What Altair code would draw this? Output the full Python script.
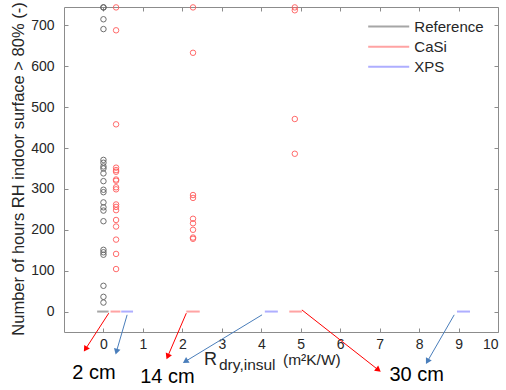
import math
import altair as alt
import pandas as pd

# ---------------- data ----------------
series_names = ["Reference", "CaSi", "XPS"]

# Reference (no insulation) circles, all at R = 0
ref_x = 0.0
ref_hours = [744, 744, 715, 691, 371, 364, 355, 350, 338, 319, 298, 292,
             267, 255, 247, 221, 151, 145, 139, 63, 36, 22]

# CaSi circles: three insulation thicknesses
casi_x = [0.32, 2.27, 4.85]
casi_hours_1 = [744, 688, 458, 352, 346, 342, 323, 320, 304, 299, 262,
                256, 248, 224, 208, 176, 141, 104]
casi_hours_2 = [744, 633, 285, 278, 227, 216, 200, 181, 178]
casi_hours_3 = [744, 737, 471, 386]

# short horizontal segments at 0 hours
zero_series = ["Reference", "CaSi", "XPS", "CaSi", "XPS", "CaSi", "XPS"]
zero_start = [-0.16, 0.18, 0.45, 2.10, 4.09, 4.71, 8.96]
zero_end = [0.13, 0.43, 0.75, 2.44, 4.42, 5.03, 9.29]
zero_hours = [0, 0, 0, 0, 0, 0, 0]

# annotation texts and arrows (in data units)
note_text = ["2 cm", "14 cm", "30 cm"]
note_x = [-0.24, 1.62, 7.94]
note_y = [-165, -175, -171]

arrow_colour = ["red", "blue", "red", "blue", "red", "blue"]
arrow_x0 = [0.134, 0.60, 2.10, 4.02, 5.03, 8.89]
arrow_y0 = [-4, -8, -4, -8, 4, -8]
arrow_x1 = [-0.456, 0.329, 1.628, 2.076, 6.97, 8.21]
arrow_y1 = [-92, -98, -110, -122, -143, -122]

# legend placement (data units, inside the plot, top right)
legend_x0 = 6.71
legend_x1 = 7.75
legend_text_x = 7.88
legend_rows = [697, 648, 599]

x_ticks = list(range(0, 11))
y_ticks = list(range(0, 701, 100))

# ---------------- tables ----------------
pts = pd.DataFrame(
    [{"series": "Reference", "R": ref_x, "hours": h} for h in ref_hours]
    + [{"series": "CaSi", "R": casi_x[0], "hours": h} for h in casi_hours_1]
    + [{"series": "CaSi", "R": casi_x[1], "hours": h} for h in casi_hours_2]
    + [{"series": "CaSi", "R": casi_x[2], "hours": h} for h in casi_hours_3]
)
zeros = pd.DataFrame({"series": zero_series, "R": zero_start,
                      "R2": zero_end, "hours": zero_hours})
notes = pd.DataFrame({"text": note_text, "R": note_x, "hours": note_y})
legend_df = pd.DataFrame({"series": series_names, "R": [legend_x0] * 3,
                          "R2": [legend_x1] * 3, "Rt": [legend_text_x] * 3,
                          "hours": legend_rows})

W, H = 434, 325
XD = [-1, 10]
YD = [-50, 745]
pxx = W / (XD[1] - XD[0])
pxy = H / (YD[1] - YD[0])
angles = []
for a, b, c, d in zip(arrow_x0, arrow_y0, arrow_x1, arrow_y1):
    dx = (c - a) * pxx
    dy = -(d - b) * pxy
    angles.append(math.degrees(math.atan2(dx, -dy)) % 360)
arrows = pd.DataFrame({"col": arrow_colour, "R": arrow_x0, "hours": arrow_y0,
                       "R2": arrow_x1, "hours2": arrow_y1, "ang": angles})

xs = alt.Scale(domain=XD, nice=False, zero=False)
ys = alt.Scale(domain=YD, nice=False, zero=False)

axis_common = dict(domain=False, grid=False, tickSize=4, offset=-4,
                   tickColor="#8c8c8c", labelColor="#262626",
                   labelFontSize=14, title=None)

x_axis = alt.Axis(values=x_ticks, labelPadding=5, **axis_common)
y_axis = alt.Axis(values=y_ticks, labelPadding=10, **axis_common)
x_top = alt.Axis(values=x_ticks, orient="top", labels=False, **axis_common)
y_right = alt.Axis(values=y_ticks, orient="right", labels=False, **axis_common)

seg_colours = ["#a6a6a6", "#ffa3a3", "#aeaeff"]
pt_colours = ["#5f5f5f", "#ff5c5c", "#8080ff"]
seg_scale = alt.Scale(domain=series_names, range=seg_colours)

segments = alt.Chart(zeros).mark_rule(strokeWidth=2).encode(
    x=alt.X("R:Q", scale=xs, axis=x_axis),
    x2="R2:Q",
    y=alt.Y("hours:Q", scale=ys, axis=y_axis),
    color=alt.Color("series:N", scale=seg_scale, legend=None),
)

frame_axes = alt.Chart(zeros).mark_point(opacity=0).encode(
    x=alt.X("R:Q", scale=xs, axis=x_top),
    y=alt.Y("hours:Q", scale=ys, axis=y_right),
)

circles = alt.Chart(pts).mark_point(shape="circle", filled=False, size=30,
                                    strokeWidth=1, opacity=0.9).encode(
    x=alt.X("R:Q", scale=xs, axis=None),
    y=alt.Y("hours:Q", scale=ys, axis=None),
    stroke=alt.Stroke("series:N", scale=alt.Scale(domain=series_names, range=pt_colours),
                      legend=None),
)

arrow_scale = alt.Scale(domain=["red", "blue"], range=["#ff0000", "#4a7ebb"])
arrow_lines = alt.Chart(arrows).mark_rule(strokeWidth=1).encode(
    x=alt.X("R:Q", scale=xs, axis=None), y=alt.Y("hours:Q", scale=ys, axis=None),
    x2="R2:Q", y2="hours2:Q",
    stroke=alt.Stroke("col:N", scale=arrow_scale, legend=None),
)
arrow_heads = alt.Chart(arrows).mark_point(shape="triangle-up", filled=True,
                                           size=45, opacity=1).encode(
    x=alt.X("R2:Q", scale=xs, axis=None), y=alt.Y("hours2:Q", scale=ys, axis=None),
    angle=alt.Angle("ang:Q", scale=None),
    fill=alt.Fill("col:N", scale=arrow_scale, legend=None),
)

note_marks = alt.Chart(notes).mark_text(fontSize=20, align="center",
                                        baseline="alphabetic", color="black").encode(
    x=alt.X("R:Q", scale=xs, axis=None), y=alt.Y("hours:Q", scale=ys, axis=None),
    text="text:N",
)

legend_lines = alt.Chart(legend_df).mark_rule(strokeWidth=2).encode(
    x=alt.X("R:Q", scale=xs, axis=None), x2="R2:Q",
    y=alt.Y("hours:Q", scale=ys, axis=None),
    color=alt.Color("series:N", scale=seg_scale, legend=None),
)
legend_text = alt.Chart(legend_df).mark_text(fontSize=15, align="left",
                                             baseline="middle", color="#262626").encode(
    x=alt.X("Rt:Q", scale=xs, axis=None), y=alt.Y("hours:Q", scale=ys, axis=None),
    text="series:N",
)

label_df = pd.DataFrame({"k": [0]})
x_title_R = alt.Chart(label_df).mark_text(text="R", fontSize=18, align="left",
                                          baseline="alphabetic", color="#262626").encode(
    x=alt.value(140), y=alt.value(358))
x_title_sub = alt.Chart(label_df).mark_text(text="dry,insul", fontSize=15.5, align="left",
                                            baseline="alphabetic", color="#262626").encode(
    x=alt.value(155), y=alt.value(363))
x_title_unit = alt.Chart(label_df).mark_text(text="(m²K/W)", fontSize=15.5, align="left",
                                             baseline="alphabetic", color="#262626").encode(
    x=alt.value(219), y=alt.value(358))
y_title = alt.Chart(label_df).mark_text(
    text="Number of hours RH indoor surface > 80% (-)", fontSize=16.5, angle=270,
    align="center", baseline="middle", color="#262626").encode(
    x=alt.value(-45), y=alt.value(162))

chart = alt.layer(
    segments, frame_axes, circles, arrow_lines, arrow_heads, note_marks,
    legend_lines, legend_text,
    x_title_R, x_title_sub, x_title_unit, y_title,
).resolve_scale(
    stroke="independent"
).resolve_axis(
    x="independent", y="independent"
).properties(
    width=W, height=H,
    autosize=alt.AutoSizeParams(type="none"),
    padding={"left": 64, "top": 7, "right": 8, "bottom": 58},
).configure(
    font="Liberation Sans", background="white"
).configure_view(
    stroke="#8c8c8c", strokeWidth=1
)

chart.save("out.html", embed_options={"renderer": "svg", "actions": False})
